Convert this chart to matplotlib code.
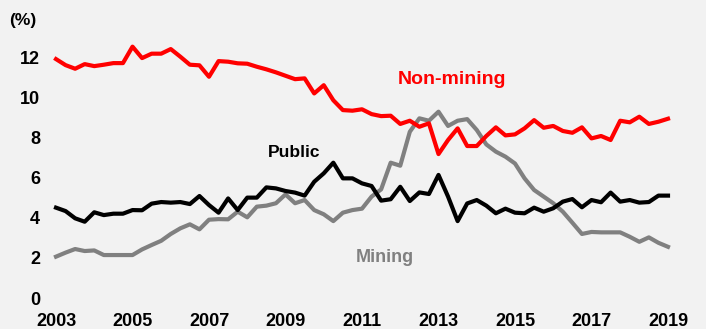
import numpy as np
import matplotlib.pyplot as plt

plt.rcParams['font.family'] = ['Liberation Sans', 'DejaVu Sans']
plt.rcParams['font.weight'] = 'bold'

# Quarterly shares of output (%), 2003 Q1 to 2019 Q1
non_mining = [11.9, 11.6, 11.42, 11.65, 11.55, 11.62, 11.7, 11.7, 12.52, 11.95,
              12.17, 12.17, 12.4, 12.02, 11.62, 11.59, 11.02, 11.8, 11.77, 11.69,
              11.67, 11.52, 11.39, 11.24, 11.07, 10.9, 10.94, 10.19, 10.6, 9.85,
              9.36, 9.33, 9.4, 9.16, 9.06, 9.08, 8.67, 8.83, 8.53, 8.7,
              7.17, 7.87, 8.45, 7.57, 7.57, 8.07, 8.5, 8.1, 8.15, 8.45,
              8.86, 8.48, 8.57, 8.32, 8.23, 8.5, 7.95, 8.07, 7.87, 8.83,
              8.75, 9.03, 8.67, 8.78, 8.93]
public = [4.5, 4.33, 3.97, 3.8, 4.27, 4.13, 4.2, 4.2, 4.38, 4.37,
          4.7, 4.78, 4.75, 4.78, 4.68, 5.08, 4.63, 4.25, 4.96, 4.38,
          5.0, 5.0, 5.51, 5.46, 5.33, 5.25, 5.1, 5.79, 6.21, 6.74,
          5.96, 5.96, 5.71, 5.58, 4.85, 4.92, 5.54, 4.83, 5.26, 5.18,
          6.13, 5.05, 3.83, 4.71, 4.88, 4.6, 4.22, 4.45, 4.25, 4.22,
          4.5, 4.3, 4.47, 4.8, 4.93, 4.52, 4.88, 4.77, 5.25, 4.8,
          4.88, 4.75, 4.78, 5.1, 5.1]
mining = [2.06, 2.26, 2.44, 2.34, 2.37, 2.14, 2.14, 2.14, 2.14, 2.42,
          2.64, 2.85, 3.19, 3.47, 3.67, 3.42, 3.9, 3.93, 3.92, 4.3,
          4.02, 4.55, 4.6, 4.72, 5.16, 4.72, 4.88, 4.38, 4.17, 3.83,
          4.25, 4.38, 4.45, 5.05, 5.41, 6.74, 6.59, 8.28, 8.95, 8.83,
          9.28, 8.57, 8.83, 8.91, 8.37, 7.65, 7.29, 7.04, 6.7, 5.96,
          5.38, 5.05, 4.72, 4.3, 3.75, 3.19, 3.29, 3.27, 3.27, 3.27,
          3.05, 2.8, 3.02, 2.75, 2.55]
dates = 2003 + np.arange(len(non_mining)) / 4
year_ticks = list(range(2003, 2020, 2))
y_ticks = [0, 2, 4, 6, 8, 10, 12]

bg = '#f2f2f2'
fig = plt.figure(figsize=(7.06, 3.29), dpi=100, facecolor=bg)
ax = fig.add_axes([0.0685, 0.0942, 0.8885, 0.7933], facecolor=bg)

ax.plot(dates, mining, color='#808080', lw=3)
ax.plot(dates, public, color='black', lw=3)
ax.plot(dates, non_mining, color='#ff0000', lw=3)

ax.set_xlim(2002.8, 2019.2)
ax.set_ylim(0, 13)
ax.set_xticks(year_ticks)
ax.set_yticks(y_ticks)
ax.tick_params(length=0, labelsize=13)
ax.tick_params(axis='x', pad=11)
ax.tick_params(axis='y', pad=6)
for s in ax.spines.values():
    s.set_visible(False)

ax.text(2013.35, 10.86, 'Non-mining', color='#ff0000', fontsize=14,
        fontweight='bold', ha='center', va='center')
ax.text(2009.22, 7.27, 'Public', color='black', fontsize=12.5,
        fontweight='bold', ha='center', va='center')
ax.text(2011.59, 2.04, 'Mining', color='#808080', fontsize=13,
        fontweight='bold', ha='center', va='center')
fig.text(23 / 706, 1 - 21 / 329, '(%)', fontsize=12.5, fontweight='bold',
         ha='center', va='center')

fig.savefig('out.png', dpi=100, facecolor=bg)
